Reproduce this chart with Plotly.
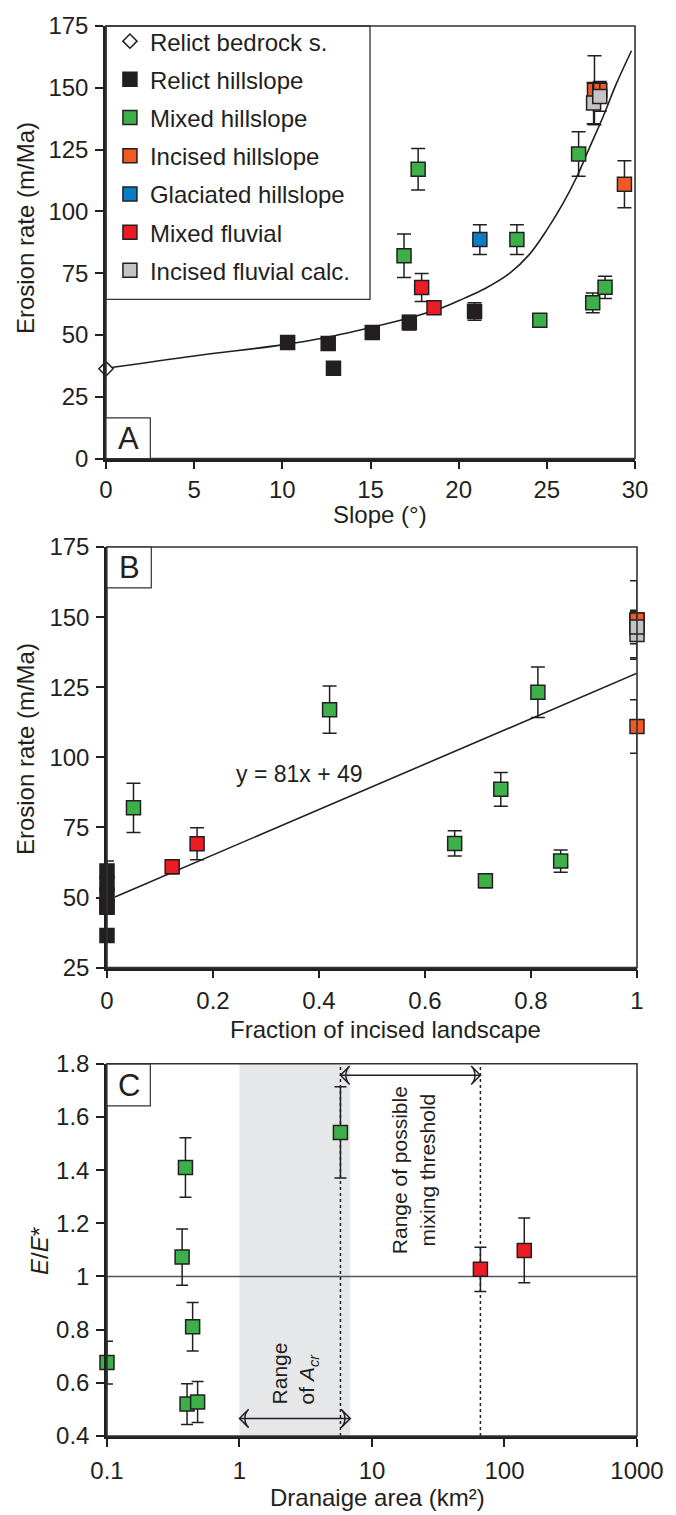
import plotly.graph_objects as go

# ---------------- data ----------------
# Panel A: slope (deg) vs erosion rate (m/Ma)
bedrock_slope = [0.0]
bedrock_E = [36.3]

relict_slope = [10.3, 12.6, 12.9, 15.1, 17.2, 20.9]
relict_E = [47.0, 46.5, 36.5, 51.0, 55.0, 59.5]
relict_err = [2.5, 2.0, 1.5, 2.5, 3.0, 3.5]
relict_frac = [0, 0, 0, 0, 0, 0]

mixed_slope = [17.7, 16.9, 23.3, 24.6, 26.8, 27.6, 28.3]
mixed_E = [117.0, 82.0, 88.6, 56.0, 123.2, 63.0, 69.3]
mixed_err = [8.4, 8.8, 6.0, 2.5, 9.0, 4.0, 4.5]
mixed_frac = [0.42, 0.05, 0.743, 0.714, 0.813, 0.856, 0.656]

incised_slope = [27.7, 28.0, 29.4]
incised_E = [149.0, 149.0, 111.0]
incised_err = [14.0, 3.0, 9.5]
incised_frac = [1, 1, 1]

glaciated_slope = [21.2]
glaciated_E = [88.6]
glaciated_err = [6.0]

fluvial_slope = [17.9, 18.6]
fluvial_E = [69.2, 61.0]
fluvial_err = [5.7, 2.5]
fluvial_frac = [0.17, 0.123]

calc_slope = [27.65, 28.0]
calc_E = [143.8, 146.5]
calc_err = [8.3, 6.0]
calc_frac = [1, 1]

# model curve
curve_slope = [0, 5, 10, 12.5, 15, 17.5, 19, 20.3, 21.5, 22.9, 24, 25, 25.9, 26.7, 27.4, 28.2, 28.9, 29.8]
curve_E = [36.5, 41.5, 46, 49, 53, 57.5, 60.8, 64.8, 68.8, 75, 82.5, 92.5, 103, 114, 125.5, 138.5, 151, 165]

# Panel B regression y = 81x + 49
fit_slope = 81
fit_intercept = 49
fit_x = [0.015, 1.0]

# Panel C: drainage area (km2) vs E/E*
c_mixed_area = [0.1, 0.391, 0.369, 0.443, 0.402, 0.483, 5.78]
c_mixed_ratio = [0.676, 1.41, 1.073, 0.811, 0.52, 0.528, 1.542]
c_mixed_err = [0.08, 0.112, 0.106, 0.091, 0.077, 0.077, 0.172]
c_fluvial_area = [65.8, 141.0]
c_fluvial_ratio = [1.027, 1.098]
c_fluvial_err = [0.083, 0.122]
acr_range = [1.0, 6.86]
acr_arrow_level = 0.466
mixing_range = [5.78, 65.8]
mixing_arrow_level = 1.757

# ---------------- style ----------------
FONT = "Liberation Sans, Arial, sans-serif"
INK = "#231F20"
COLORS = {
    "relict": "#231F20",
    "mixed": "#3DB049",
    "incised": "#F15A24",
    "glaciated": "#0A7DC4",
    "fluvial": "#ED1C24",
    "calc": "#C4C4C4",
}
MS = 14


def err(vals, width=7):
    return dict(type="data", array=vals, visible=True, color=INK, thickness=1.5, width=width)


def sq(color):
    return dict(symbol="square", size=MS, color=color, line=dict(color=INK, width=1.5))


fig = go.Figure()

# ---- Panel A ----
fig.add_trace(go.Scatter(x=curve_slope, y=curve_E, mode="lines",
                         line=dict(color=INK, width=1.6, shape="spline", smoothing=1.0),
                         xaxis="x", yaxis="y", showlegend=False, hoverinfo="skip"))

groups = [
    ("Relict bedrock s.", bedrock_slope, bedrock_E, None,
     dict(symbol="diamond", size=11, color="white", line=dict(color=INK, width=1.5))),
    ("Relict hillslope", relict_slope, relict_E, relict_err, sq(COLORS["relict"])),
    ("Mixed hillslope", mixed_slope, mixed_E, mixed_err, sq(COLORS["mixed"])),
    ("Incised hillslope", incised_slope, incised_E, incised_err, sq(COLORS["incised"])),
    ("Glaciated hillslope", glaciated_slope, glaciated_E, glaciated_err, sq(COLORS["glaciated"])),
    ("Mixed fluvial", fluvial_slope, fluvial_E, fluvial_err, sq(COLORS["fluvial"])),
    ("Incised fluvial calc.", calc_slope, calc_E, calc_err, sq(COLORS["calc"])),
]
for i, (name, xs, ys, es, mk) in enumerate(groups):
    fig.add_trace(go.Scatter(
        x=xs, y=ys, mode="markers", name=name, marker=mk,
        error_y=err(es) if es is not None else None,
        xaxis="x", yaxis="y", cliponaxis=False, legendgroup=f"g{i}", showlegend=True))

# ---- Panel B ----
fit_y = [fit_slope * v + fit_intercept for v in fit_x]
fig.add_trace(go.Scatter(x=fit_x, y=fit_y, mode="lines", line=dict(color=INK, width=1.6),
                         xaxis="x2", yaxis="y2", showlegend=False, hoverinfo="skip"))
b_groups = [
    (relict_frac, relict_E, relict_err, COLORS["relict"]),
    (mixed_frac, mixed_E, mixed_err, COLORS["mixed"]),
    (fluvial_frac, fluvial_E, fluvial_err, COLORS["fluvial"]),
    (incised_frac, incised_E, incised_err, COLORS["incised"]),
    (calc_frac, calc_E, calc_err, COLORS["calc"]),
]
for xs, ys, es, c in b_groups:
    fig.add_trace(go.Scatter(x=xs, y=ys, mode="markers", marker=sq(c), error_y=err(es),
                             xaxis="x2", yaxis="y2", cliponaxis=False, showlegend=False))

# ---- Panel C ----
# double-headed range arrows
for rng, lvl in [(acr_range, acr_arrow_level), (mixing_range, mixing_arrow_level)]:
    fig.add_trace(go.Scatter(x=rng, y=[lvl, lvl], mode="lines+markers",
                             line=dict(color=INK, width=1.5),
                             marker=dict(symbol="arrow-wide-open", size=13, angle=[-90, 90],
                                         color=INK, line=dict(color=INK, width=1.5)),
                             xaxis="x3", yaxis="y3", cliponaxis=False, showlegend=False, hoverinfo="skip"))
fig.add_trace(go.Scatter(x=c_mixed_area, y=c_mixed_ratio, mode="markers", marker=sq(COLORS["mixed"]),
                         error_y=err(c_mixed_err, 6), xaxis="x3", yaxis="y3", cliponaxis=False,
                         showlegend=False))
fig.add_trace(go.Scatter(x=c_fluvial_area, y=c_fluvial_ratio, mode="markers", marker=sq(COLORS["fluvial"]),
                         error_y=err(c_fluvial_err, 6), xaxis="x3", yaxis="y3", cliponaxis=False,
                         showlegend=False))

# ---------------- layout ----------------
W, H = 676, 1515
ML, MR, MT, MB = 106, 31, 18, 79
PW = W - ML - MR
PH = H - MT - MB


def px(x):
    return (x - ML) / PW


def py(y):
    return (H - MB - y) / PH


tickfont = dict(family=FONT, size=24, color=INK)


def axis(**kw):
    base = dict(showline=True, linewidth=2.5, linecolor=INK, mirror=False, ticks="outside", ticklen=8,
                tickwidth=2, tickcolor=INK, showgrid=False, zeroline=False, tickfont=tickfont,
                ticklabelstandoff=2)
    base.update(kw)
    return base


dA = [py(453), py(18)]
dB = [py(965), py(542)]
dC = [py(1436), py(1061.7)]

fig.update_layout(
    width=W, height=H, margin=dict(l=ML, r=MR, t=MT, b=MB),
    paper_bgcolor="white", plot_bgcolor="white",
    font=dict(family=FONT, color=INK),
    xaxis=axis(domain=[0, px(643)], range=[0, 30], tickvals=[0, 5, 10, 15, 20, 25, 30], anchor="y",
               ticklabelstandoff=0),
    yaxis=axis(domain=dA, range=[0, 175], tickvals=[0, 25, 50, 75, 100, 125, 150, 175], anchor="x"),
    xaxis2=axis(domain=[px(107), 1], range=[0, 1], tickvals=[0, 0.2, 0.4, 0.6, 0.8, 1],
                ticktext=["0", "0.2", "0.4", "0.6", "0.8", "1"], anchor="y2", ticklabelstandoff=2),
    yaxis2=axis(domain=dB, range=[25, 175], tickvals=[25, 50, 75, 100, 125, 150, 175], anchor="x2"),
    xaxis3=axis(domain=[px(107), 1], type="log", range=[-1, 3], tickvals=[0.1, 1, 10, 100, 1000],
                ticktext=["0.1", "1", "10", "100", "1000"], anchor="y3", ticklabelstandoff=3),
    yaxis3=axis(domain=dC, range=[0.4, 1.8], tickvals=[0.4, 0.6, 0.8, 1.0, 1.2, 1.4, 1.6, 1.8],
                ticktext=["0.4", "0.6", "0.8", "1", "1.2", "1.4", "1.6", "1.8"], anchor="x3"),
    legend=dict(x=px(110), y=1 + 7 / PH, xanchor="left", yanchor="top", bgcolor="rgba(0,0,0,0)",
                borderwidth=0, font=dict(family=FONT, size=24, color=INK), traceorder="grouped",
                tracegroupgap=4, itemsizing="trace"),
)

shapes = []
# frame (top/right thin lines) for each panel
for xr, yr in [("x", "y"), ("x2", "y2"), ("x3", "y3")]:
    shapes.append(dict(type="rect", xref=f"{xr} domain", yref=f"{yr} domain", x0=0, x1=1, y0=0, y1=1,
                       line=dict(color="#333333", width=1.6), layer="above"))
# legend box
shapes.append(dict(type="rect", xref="paper", yref="paper", x0=0, x1=px(374), y0=py(293), y1=1,
                   line=dict(color="#333333", width=1.3), fillcolor="rgba(0,0,0,0)"))
# panel label boxes
for (x0, x1, y0, y1) in [(106, 151, 412, 453), (107, 152, 542, 583), (107, 151, 1062, 1104)]:
    shapes.append(dict(type="rect", xref="paper", yref="paper", x0=px(x0), x1=px(x1), y0=py(y1), y1=py(y0),
                       line=dict(color="#333333", width=1.2), fillcolor="white", layer="above"))
# panel C: band, reference line, dotted thresholds
shapes.append(dict(type="rect", xref="x3", yref="y3 domain", x0=acr_range[0], x1=acr_range[1], y0=0, y1=1,
                   fillcolor="#E6E7E8", line=dict(width=0), layer="below"))
shapes.append(dict(type="line", xref="x3 domain", yref="y3", x0=0, x1=1, y0=1, y1=1,
                   line=dict(color="#555555", width=1.5), layer="below"))
for v in mixing_range:
    shapes.append(dict(type="line", xref="x3", yref="y3 domain", x0=v, x1=v, y0=0, y1=1,
                       line=dict(color=INK, width=1.5, dash="dot"), layer="below"))
fig.update_layout(shapes=shapes)

ann = []
tf = dict(family=FONT, size=24, color=INK)


def label(text, x, y, **kw):
    d = dict(text=text, xref="paper", yref="paper", x=px(x), y=py(y), showarrow=False, font=tf,
             xanchor="center", yanchor="middle")
    d.update(kw)
    ann.append(d)


label("Erosion rate (m/Ma)", 25, 221, textangle=-90)
label("Slope (°)", 384, 509)
label("Erosion rate (m/Ma)", 25, 745, textangle=-90)
label("Fraction of incised landscape", 390, 1027)
label("<i>E</i>/<i>E</i>*", 38, 1250, textangle=-90)
label("Dranaige area (km²)", 382, 1498)
# panel letters
lf = dict(family=FONT, size=31, color=INK)
for t, cx, cy in [("A", 128.5, 433), ("B", 129.5, 563), ("C", 129, 1084)]:
    label(t, cx, cy, font=lf)
# equation
ann.append(dict(text=f"y = {fit_slope}x + {fit_intercept}", xref="x2", yref="y2", x=0.24, y=94,
                xanchor="left", yanchor="middle", showarrow=False, font=dict(family=FONT, size=23, color=INK)))
cf = dict(family=FONT, size=21, color=INK)
ann.append(dict(text="Range<br>of <i>A<sub>cr</sub></i>", xref="x3", yref="y3", x=0.42, y=0.636,
                xanchor="center", yanchor="middle",
                textangle=-90, showarrow=False, align="left", font=cf))
ann.append(dict(text="Range of possible<br>mixing threshold", xref="x3", yref="y3", x=1.312, y=1.401,
                xanchor="center", yanchor="middle",
                textangle=-90, showarrow=False, align="center", font=cf))
fig.update_layout(annotations=ann)

fig.write_html("out.html")
